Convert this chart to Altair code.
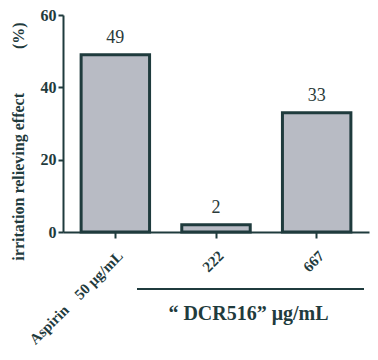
import altair as alt
import pandas as pd

categories = ["Aspirin" + "\u00a0" * 4 + "50 μg/mL", "222", "667"]
values = [49, 2, 33]
y_ticks = [0, 20, 40, 60]

df = pd.DataFrame({"cat": categories, "val": values})

DARK = "#1f3b3d"
FILL = "#b8bbc4"
SERIF = "Liberation Serif"

x_enc = alt.X(
    "cat:N",
    sort=categories,
    scale=alt.Scale(paddingInner=0.32, paddingOuter=0.18),
    axis=alt.Axis(
        title="“ DCR516” μg/mL",
        titleFont=SERIF, titleFontSize=20, titleFontWeight="bold", titleColor=DARK,
        titleX=185, titleY=87, titleBaseline="alphabetic", titleAnchor="middle",
        labelAngle=-45, labelAlign="right", labelBaseline="top",
        labelFont=SERIF, labelFontSize=15, labelFontWeight="bold", labelColor=DARK,
        labelPadding=10, tickSize=6, tickColor=DARK, tickWidth=2,
        domainColor=DARK, domainWidth=2,
    ),
)

y_enc = alt.Y(
    "val:Q",
    scale=alt.Scale(domain=[0, 60], nice=False),
    axis=alt.Axis(
        values=y_ticks,
        title="irritation relieving effect" + "\u00a0" * 11 + "(%)",
        titleFont=SERIF, titleFontSize=16, titleFontWeight="bold", titleColor=DARK,
        titleX=-37, titleY=126,
        labelFont=SERIF, labelFontSize=16, labelFontWeight="bold", labelColor=DARK,
        labelPadding=2, tickSize=5, tickColor=DARK, tickWidth=2,
        domainColor=DARK, domainWidth=2, grid=False,
    ),
)

bars = alt.Chart(df).mark_bar(
    fill=FILL, stroke=DARK, strokeWidth=3
).encode(x=x_enc, y=y_enc)

labels = alt.Chart(df).mark_text(
    font=SERIF, fontSize=18, color="#2a3a3a", dy=-12, baseline="alphabetic"
).encode(x=alt.X("cat:N", sort=categories), y="val:Q", text="val:Q")

bracket = alt.Chart(df).mark_rule(color=DARK, strokeWidth=2).encode(
    x=alt.value(74), x2=alt.value(301), y=alt.value(274)
)

chart = alt.layer(bars, labels, bracket).properties(
    width=306, height=217,
    autosize=alt.AutoSizeParams(type="none"),
    padding={"left": 55, "top": 7, "right": 1, "bottom": 120},
).configure_view(stroke=None)

chart.save("out.html", embed_options={"renderer": "svg", "actions": False})
